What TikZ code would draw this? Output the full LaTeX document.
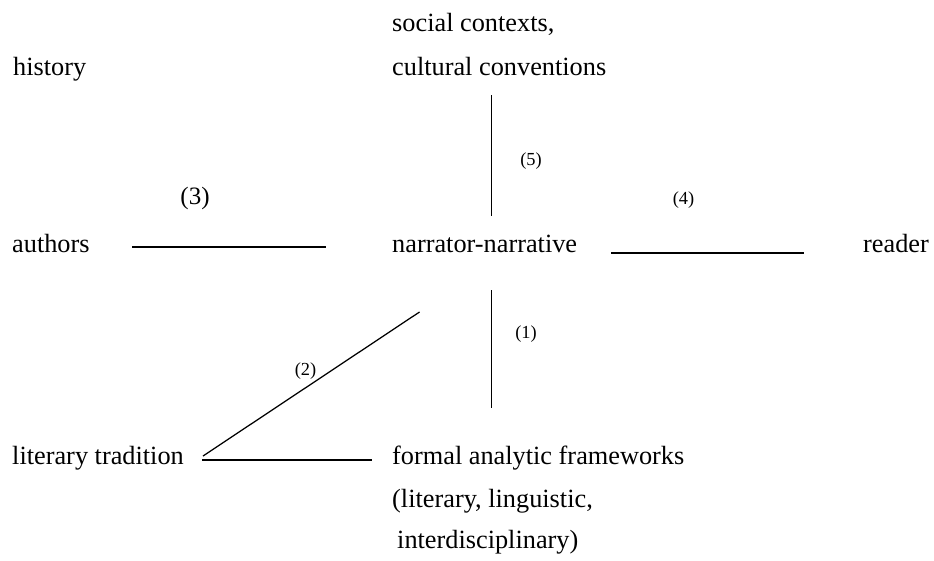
\documentclass[tikz,border=0pt]{standalone}
\usepackage{fontspec}
\setmainfont{Liberation Serif}
\begin{document}
\begin{tikzpicture}[
  x=1pt, y=-1pt,
  term/.style={anchor=base west, inner sep=0pt, font=\fontsize{26.3}{30}\selectfont},
  num/.style={anchor=base, inner sep=0pt, font=\fontsize{18.4}{22}\selectfont},
  bignum/.style={num, font=\fontsize{25}{30}\selectfont},
  link/.style={line width=1.25pt},
  bar/.style={line width=1.8pt}]
\useasboundingbox (0,0) rectangle (934,560);
\node [term] (social)    at (392,31)  {social contexts,};
\node [term] (cultural)  at (392,75)  {cultural conventions};
\node [term] (history)   at (13,75)   {history};
\node [term] (authors)   at (12,252)  {authors};
\node [term] (narrator)  at (392,252) {narrator-narrative};
\node [term] (reader)    at (863,252) {reader};
\node [term] (tradition) at (12,464)  {literary tradition};
\node [term] (formal)    at (392,464) {formal analytic frameworks};
\node [term] (kinds)     at (392,507) {(literary, linguistic,};
\node [term] (inter)     at (397,548) {interdisciplinary)};
\coordinate (up top)     at (491.7,95);
\coordinate (up bot)     at (491.7,216);
\coordinate (down top)   at (491.7,290);
\coordinate (down bot)   at (491.7,408);
\coordinate (auth left)  at (132,247);
\coordinate (auth right) at (326,247);
\coordinate (read left)  at (611,253);
\coordinate (read right) at (804,253);
\coordinate (diag top)   at (419.5,312);
\coordinate (diag bot)   at (203,456);
\coordinate (trad left)  at (202,460);
\coordinate (trad right) at (372,460);
\draw [link] (up top) -- (up bot);
\draw [link] (down top) -- (down bot);
\draw [link] (diag top) -- (diag bot);
\draw [bar] (auth left) -- (auth right);
\draw [bar] (read left) -- (read right);
\draw [bar] (trad left) -- (trad right);
\node [num]    (n1) at (526,338.5) {(1)};
\node [num]    (n2) at (305.5,375) {(2)};
\node [bignum] (n3) at (195,204.5) {(3)};
\node [num]    (n4) at (683.5,204) {(4)};
\node [num]    (n5) at (531,165)   {(5)};
\end{tikzpicture}
\end{document}
